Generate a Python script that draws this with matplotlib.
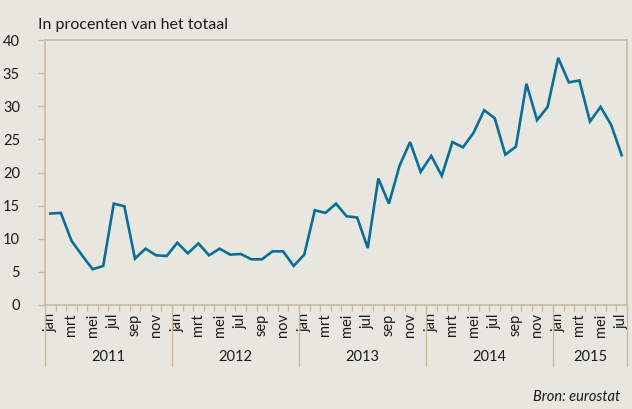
import matplotlib
matplotlib.use("Agg")
import matplotlib.pyplot as plt
from matplotlib import transforms

months = ["jan", "feb", "mrt", "apr", "mei", "jun", "jul", "aug", "sep", "okt", "nov", "dec"]
years = ["2011", "2012", "2013", "2014", "2015"]
months_per_year = [12, 12, 12, 12, 7]
values = [
    13.8, 13.9, 9.7, 7.5, 5.4, 5.9, 15.3, 14.9, 7.0, 8.5, 7.5, 7.4,
    9.4, 7.8, 9.3, 7.5, 8.5, 7.6, 7.7, 6.9, 6.9, 8.1, 8.1, 5.9,
    7.6, 14.3, 13.9, 15.3, 13.4, 13.2, 8.6, 19.1, 15.3, 21.0, 24.6, 20.1,
    22.5, 19.5, 24.6, 23.8, 26.0, 29.4, 28.2, 22.7, 23.9, 33.4, 27.9, 29.9,
    37.3, 33.6, 33.9, 27.7, 29.9, 27.2, 22.6,
]
y_ticks = [0, 5, 10, 15, 20, 25, 30, 35, 40]
title = "In procenten van het totaal"
source = "Bron: eurostat"

bg = "#e8e7df"
frame = "#c9bb9f"
line_c = "#0b6d9a"
txt = "#1a1a1a"

fig = plt.figure(figsize=(6.32, 4.09), dpi=100, facecolor=bg)
ax = fig.add_axes([45/632, 1-305/409, 582/632, 265/409], facecolor=bg)

x = list(range(len(values)))
ax.plot(x, values, color=line_c, lw=1.9, solid_joinstyle="miter")

n = len(values)
ax.set_xlim(-0.5, n - 0.5)
ax.set_ylim(0, 40)

for s in ax.spines.values():
    s.set_color(frame)
    s.set_linewidth(1.2)

ax.set_yticks(y_ticks)
ax.set_yticklabels([str(v) for v in y_ticks], fontsize=10.5, color=txt, family="Lato")
ax.tick_params(axis="y", length=5, color=frame, width=1, pad=13)

# month labels
labels = []
for cnt in months_per_year:
    labels += months[:cnt]
ax.set_xticks(x)
ax.set_xticklabels([m if i % 2 == 0 else "" for i, m in enumerate(labels)],
                   rotation=90, fontsize=10.5, color=txt, family="Lato")
ax.tick_params(axis="x", length=0, pad=6)
ax.set_xticks([i - 0.5 for i in range(1, n + 1)], minor=True)
ax.tick_params(axis="x", which="minor", length=4, color=frame, width=1)

trans = transforms.blended_transform_factory(ax.transData, ax.transAxes)
start = 0
for yr, cnt in zip(years, months_per_year):
    ax.plot([start - 0.5, start - 0.5], [0, -61/265], transform=trans,
            color=frame, lw=1, clip_on=False)
    ax.text(start - 0.5 + cnt / 2, -52/265, yr, transform=trans, ha="center",
            va="center", fontsize=10.5, color=txt, family="Lato")
    start += cnt
ax.plot([n - 0.5, n - 0.5], [0, -61/265], transform=trans,
        color=frame, lw=1, clip_on=False)

fig.text(38/632, 1-25/409, title, fontsize=11.5, color=txt,
         family="Lato", va="center", ha="left")
fig.text(533/632, 1-397/409, source, fontsize=10.5, color=txt, style="italic",
         family="Lato", va="center", ha="left")

fig.savefig("out.png", dpi=100, facecolor=bg)
